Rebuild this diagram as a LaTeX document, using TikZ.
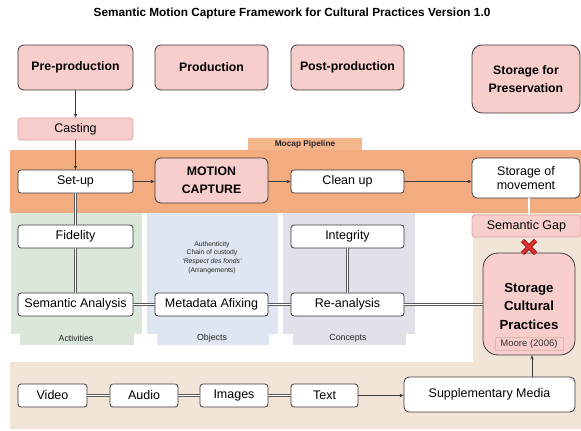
\documentclass[tikz,border=0pt]{standalone}
\usepackage{fontspec}
\setmainfont{Liberation Sans}
\usetikzlibrary{arrows.meta}

\definecolor{pinkF}{HTML}{F8CECC}
\definecolor{pinkD}{HTML}{D9A3A1}
\definecolor{edgeD}{HTML}{3A3A3A}
\definecolor{orangeF}{HTML}{F3AC80}
\definecolor{orangeT}{HTML}{F5B68C}
\definecolor{greenF}{HTML}{DCE7DC}
\definecolor{blueF}{HTML}{DFE5F1}
\definecolor{purpleF}{HTML}{E3E0EA}
\definecolor{beigeF}{HTML}{F3E4D8}
\definecolor{lineG}{HTML}{5A5A5A}
\definecolor{xred}{HTML}{E8312F}
\definecolor{xdark}{HTML}{7A1414}

\tikzset{
  base/.style={draw=edgeD, line width=0.8pt, rounded corners=3pt, align=center,
    inner sep=0pt, font=\fontsize{12.5}{14}\selectfont},
  whitebox/.style={base, fill=white},
  stagebox/.style={base, fill=pinkF, rounded corners=6pt,
    font=\bfseries\fontsize{12.3}{18}\selectfont},
  softpink/.style={base, fill=pinkF, draw=pinkD, line width=0.7pt},
  arr/.style={draw=edgeD, line width=0.6pt, -{Stealth[length=4pt,width=3.5pt]}},
  dbl/.style={draw=lineG, line width=0.55pt, double=white, double distance=1.6pt},
  tablabel/.style={font=\fontsize{8.8}{10}\selectfont, text=black!85},
}

\begin{document}
\begin{tikzpicture}[x=1pt,y=-1pt]
\useasboundingbox (0,0) rectangle (581,431);

% title
\node[font=\bfseries\fontsize{11.8}{13}\selectfont] (title) at (292,13) {Semantic Motion Capture Framework for Cultural Practices Version 1.0};

% background regions
\fill[beigeF] (473,213) -- (581,213) -- (581,429) -- (10,429) -- (10,362) -- (473,362) -- cycle;
\fill[greenF] (11,213) rectangle (142,334);
\fill[greenF] (20,330) rectangle (134,345);
\fill[blueF] (147,213) rectangle (278,334);
\fill[blueF] (157,330) rectangle (269,345);
\fill[purpleF] (283,213) rectangle (415,334);
\fill[purpleF] (293,330) rectangle (406,345);
\fill[orangeT] (248,138) rectangle (362,151);
\fill[orangeF] (10,150) rectangle (581,213);

\node[font=\bfseries\fontsize{8.3}{10}\selectfont, text=black!85] (mocaplbl) at (305,144.5) {Mocap Pipeline};
\node[tablabel] (activities) at (76,338.5) {Activities};
\node[tablabel] (objects) at (212,338.5) {Objects};
\node[tablabel] (concepts) at (348,338.5) {Concepts};

% production stages
\node[stagebox, minimum width=115, minimum height=45] (prepro) at (75.5,67.5) {Pre-production};
\node[stagebox, minimum width=113, minimum height=45] (prod) at (211.5,67.5) {Production};
\node[stagebox, minimum width=113, minimum height=45] (postprod) at (347.5,67.5) {Post-production};
\node[stagebox, rounded corners=10pt, minimum width=108, minimum height=68] (storpres) at (526,79) {Storage for\\Preservation};

\node[softpink, minimum width=115, minimum height=22] (casting) at (75.5,129) {Casting};

% mocap pipeline
\node[whitebox, minimum width=115, minimum height=23] (setup) at (75.5,181.5) {Set-up};
\node[stagebox, minimum width=113, minimum height=45] (mocap) at (211.5,180.5) {MOTION\\CAPTURE};
\node[whitebox, minimum width=113, minimum height=23] (cleanup) at (347.5,181.5) {Clean up};
\node[whitebox, rounded corners=5pt, minimum width=108, minimum height=40] (stormov) at (526,178) {Storage of\\movement};

\node[softpink, minimum width=109, minimum height=22] (semgap) at (526.5,226) {Semantic Gap};

% activities / objects / concepts
\node[whitebox, minimum width=115, minimum height=23] (fidelity) at (75.5,236.5) {Fidelity};
\node[whitebox, minimum width=113, minimum height=23] (integrity) at (347.5,236.5) {Integrity};
\node[align=center, font=\fontsize{6.8}{8.7}\selectfont, text=black!85] (objtext) at (212,257.5) {Authenticity\\Chain of custody\\\textit{`Respect des fonds'}\\(Arrangements)};

\node[whitebox, minimum width=115, minimum height=23] (semana) at (75.5,304.5) {Semantic Analysis};
\node[whitebox, minimum width=113, minimum height=23] (metadata) at (211.5,304.5) {Metadata Afixing};
\node[whitebox, minimum width=113, minimum height=23] (reana) at (347.5,304.5) {Re-analysis};

% storage of cultural practices
\node[base, fill=pinkF, rounded corners=15pt, minimum width=92, minimum height=102] (storcult) at (529,304) {};
\node[align=center, font=\bfseries\fontsize{13.2}{18.5}\selectfont] (storcultlbl) at (529,306) {Storage\\Cultural\\Practices};
\node[softpink, draw=pinkD!80, line width=0.5pt, rounded corners=0pt, minimum width=68, minimum height=13,
  font=\fontsize{9.5}{11}\selectfont, text=black!80] (moore) at (529,344) {Moore (2006)};

% supplementary media
\node[whitebox, rounded corners=5pt, minimum width=171, minimum height=35] (supp) at (489.5,394.5) {Supplementary Media};
\node[whitebox, minimum width=69, minimum height=23] (video) at (52.5,395.5) {Video};
\node[whitebox, minimum width=68, minimum height=23] (audio) at (144,395.5) {Audio};
\node[whitebox, minimum width=68, minimum height=23] (images) at (234,395.5) {Images};
\node[whitebox, minimum width=67, minimum height=23] (text) at (324.5,395.5) {Text};

% connectors
\draw[arr] (prepro) -- (casting);
\draw[arr] (casting) -- (setup);
\draw[arr] (setup.east) -- (setup.east -| mocap.west);
\draw[arr] (cleanup.west -| mocap.east) -- (cleanup.west);
\draw[arr] (cleanup.east) -- (cleanup.east -| stormov.west);

\draw[dbl] (setup) -- (fidelity);
\draw[dbl] (fidelity) -- (semana);
\draw[dbl] (integrity) -- (reana);
\draw[dbl] ([xshift=3pt]stormov.south) -- ([xshift=3pt]stormov.south |- semgap.north);

\draw[dbl] (semana) -- (metadata);
\draw[dbl] (metadata) -- (reana);
\draw[dbl] (reana.east) -- (reana.east -| storcult.west);

\draw[dbl] (video) -- (audio);
\draw[dbl] (audio) -- (images);
\draw[dbl] (images) -- (text);
\draw[arr] (text.east) -- (text.east -| supp.west);
\draw[arr] ([xshift=3pt]storcult.south |- supp.north) -- ([xshift=3pt]storcult.south);

% broken link mark
\draw[xdark, line width=4.4pt] (522.5,240.5) -- (535.5,253.5) (535.5,240.5) -- (522.5,253.5);
\draw[xred, line width=2.6pt] (522.5,240.5) -- (535.5,253.5) (535.5,240.5) -- (522.5,253.5);
\end{tikzpicture}
\end{document}
